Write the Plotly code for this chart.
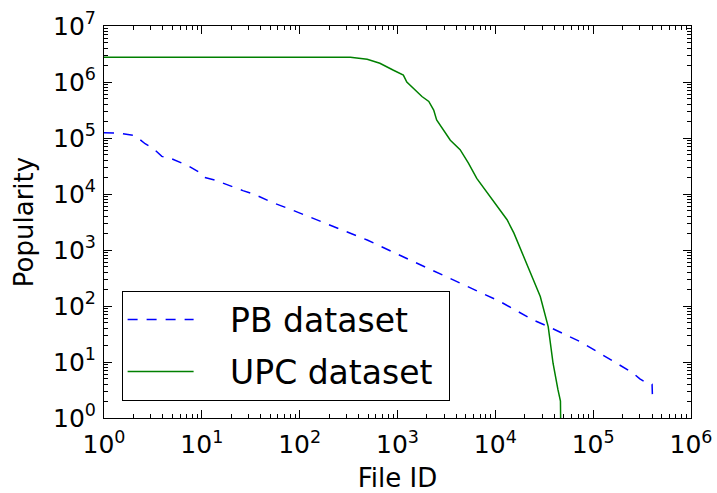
import plotly.graph_objects as go

# PB dataset (blue dashed)
pb_x = [1, 1.4, 2.09, 2.63, 3.16, 3.9, 4.7, 7.2, 9.2, 10.4, 13.5, 16.6, 21.9, 26.3, 33.9, 51, 79,
        148, 240, 490, 1350, 3720, 11200, 24500, 34700, 74000, 117000, 174000, 257000, 300000,
        355000, 400000, 405000]
pb_y = [124000, 122000, 110000, 79000, 66000, 47000, 44000, 32000, 25000, 20000, 17800, 15500,
        12600, 11500, 10000, 7200, 5400, 3470, 2450, 1510, 660, 290, 120, 56, 43, 23, 14.5, 9.5,
        6.3, 5.0, 4.2, 4.0, 2.0]

# UPC dataset (green solid)
upc_x = [1, 10, 100, 330, 490, 660, 910, 1070, 1148, 1245, 1445, 1778, 2089, 2344, 2512, 2951,
         3467, 4365, 5309, 6457, 8913, 11220, 13180, 15490, 20900, 28800, 34700, 38900, 43650,
         45700, 46300, 46500]
upc_y = [2760000, 2760000, 2760000, 2760000, 2540000, 2160000, 1620000, 1430000, 1330000,
         1000000, 780000, 550000, 450000, 316000, 210000, 138000, 91000, 62000, 35500, 19000,
         8900, 5100, 3470, 2000, 575, 148, 43, 9.5, 3.2, 2.0, 2.0, 1.0]

series_names = ["PB dataset", "UPC dataset"]

x_tick_vals = [1, 10, 100, 1000, 10000, 100000, 1000000]
x_tick_text = ["10<sup>0</sup>", "10<sup>1</sup>", "10<sup>2</sup>", "10<sup>3</sup>",
               "10<sup>4</sup>", "10<sup>5</sup>", "10<sup>6</sup>"]
y_tick_vals = [1, 10, 100, 1000, 10000, 100000, 1000000, 10000000]
y_tick_text = ["10<sup>0</sup>", "10<sup>1</sup>", "10<sup>2</sup>", "10<sup>3</sup>",
               "10<sup>4</sup>", "10<sup>5</sup>", "10<sup>6</sup>", "10<sup>7</sup>"]

def minor_vals(n_dec):
    out = []
    for e in range(n_dec):
        for d in range(2, 10):
            out.append(d * 10 ** e)
    return out

NB = "\u00a0"
def pad(name):
    return NB * 3 + name + NB

fig = go.Figure()
fig.add_trace(go.Scatter(x=pb_x, y=pb_y, mode="lines", name=pad(series_names[0]),
                         line=dict(color="#0000ff", width=1.5, dash="10px,9px"),
                         legendgroup="a"))
fig.add_trace(go.Scatter(x=upc_x, y=upc_y, mode="lines", name=pad(series_names[1]),
                         line=dict(color="#008000", width=1.5), legendgroup="b"))

font_family = "DejaVu Sans"
axis_common = dict(type="log", showgrid=False, zeroline=False, showline=True,
                   linecolor="black", linewidth=1, mirror="allticks", ticks="inside",
                   ticklen=8, tickcolor="black", tickwidth=1, automargin=False,
                   tickfont=dict(family=font_family, size=25, color="black"))

fig.update_xaxes(range=[0, 6], tickvals=x_tick_vals, ticktext=x_tick_text,
                 minor=dict(tickvals=minor_vals(6), ticks="inside", ticklen=4,
                            tickcolor="black", tickwidth=1),
                 title=dict(text="File ID", font=dict(family=font_family, size=26, color="black"),
                            standoff=13),
                 ticklabelstandoff=4,
                 **axis_common)
fig.update_yaxes(range=[0, 7], tickvals=y_tick_vals, ticktext=y_tick_text,
                 minor=dict(tickvals=minor_vals(7), ticks="inside", ticklen=4,
                            tickcolor="black", tickwidth=1),
                 title=dict(text="Popularity", font=dict(family=font_family, size=26, color="black"),
                            standoff=11),
                 ticklabelstandoff=2,
                 **axis_common)

fig.update_layout(
    width=717, height=493,
    margin=dict(l=104, r=26, t=26, b=75),
    paper_bgcolor="white", plot_bgcolor="white",
    font=dict(family=font_family, color="black"),
    legend=dict(x=0.030, y=0.325, xanchor="left", yanchor="top",
                bgcolor="white", bordercolor="black", borderwidth=1,
                font=dict(family=font_family, size=33, color="black"),
                tracegroupgap=6, itemwidth=66),
    showlegend=True,
)

fig.write_html("out.html")
